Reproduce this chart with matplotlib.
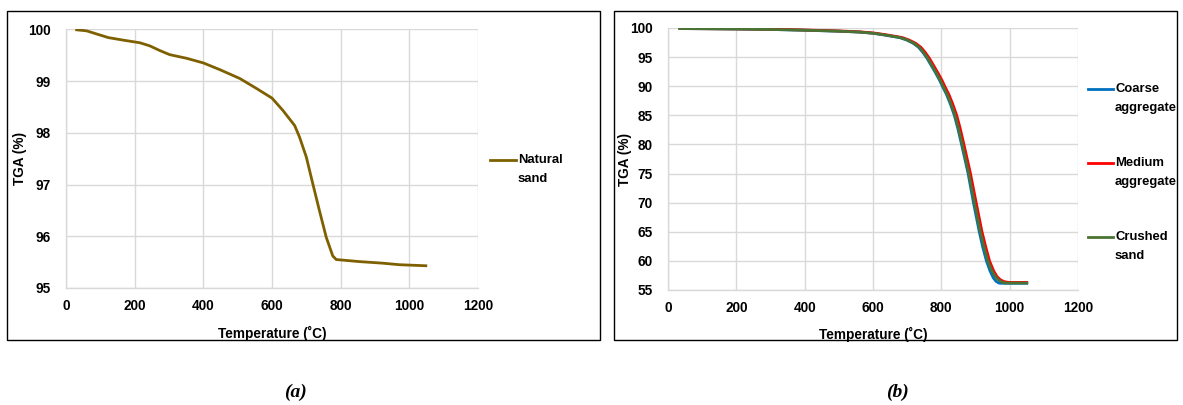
import matplotlib
matplotlib.use("Agg")
import matplotlib.pyplot as plt
from matplotlib.patches import Rectangle
from matplotlib.lines import Line2D

plt.rcParams['font.family'] = ['Liberation Sans', 'DejaVu Sans']

# ---- data (a) natural sand ----
ns_temp = [31, 60, 89, 123, 167, 215, 244, 273, 302, 351, 400, 448, 506, 554, 600, 632, 666,
           680, 700, 719, 738, 758, 777, 787, 855, 922, 971, 1048]
ns_tga = [99.99, 99.97, 99.91, 99.84, 99.79, 99.74, 99.68, 99.59, 99.51, 99.44, 99.35, 99.22,
          99.05, 98.86, 98.67, 98.43, 98.14, 97.92, 97.53, 97.01, 96.50, 95.98, 95.62, 95.55,
          95.51, 95.48, 95.45, 95.43]

# ---- data (b) aggregates ----
cs_temp = [35, 100, 200, 300, 400, 500, 560, 600, 630, 660, 680, 700, 719, 735, 748, 760, 773,
           785, 797, 805, 817, 828, 840, 850, 860, 870, 880, 897, 914, 925, 936, 948, 958, 968,
           978, 987, 1000, 1050]
cs_tga = [99.9, 99.88, 99.83, 99.75, 99.62, 99.45, 99.3, 99.1, 98.85, 98.55, 98.35, 97.95, 97.4,
          96.7, 95.8, 94.8, 93.5, 92.3, 91.0, 90.0, 88.6, 87.0, 85.0, 82.8, 80.3, 77.7, 75.1,
          70.0, 65.0, 62.4, 60.0, 58.3, 57.3, 56.7, 56.35, 56.2, 56.2, 56.2]

ca_temp = [35, 100, 200, 300, 400, 500, 560, 600, 628, 658, 678, 698, 717, 733, 746, 758, 771,
           783, 795, 803, 815, 826, 838, 848, 858, 868, 878, 894, 911, 921, 932, 943, 952, 960,
           968, 975, 1000, 1050]
ca_tga = [99.9, 99.88, 99.83, 99.75, 99.62, 99.45, 99.3, 99.1, 98.85, 98.55, 98.35, 97.95, 97.4,
          96.7, 95.8, 94.8, 93.5, 92.3, 91.0, 90.0, 88.6, 87.0, 85.0, 82.8, 80.3, 77.7, 75.1,
          70.0, 65.0, 62.4, 60.0, 58.2, 57.1, 56.5, 56.2, 56.15, 56.15, 56.15]

ma_temp = [35, 100, 200, 300, 400, 500, 565, 605, 635, 665, 685, 705, 724, 740, 753, 765, 778,
           790, 802, 810, 822, 833, 845, 855, 865, 875, 885, 902, 919, 930, 941, 953, 963, 973,
           983, 992, 1000, 1050]
ma_tga = [99.9, 99.88, 99.85, 99.78, 99.66, 99.5, 99.33, 99.12, 98.87, 98.57, 98.37, 97.95, 97.4,
          96.7, 95.8, 94.8, 93.5, 92.3, 91.0, 90.0, 88.6, 87.0, 85.0, 82.8, 80.3, 77.7, 75.1,
          70.0, 65.0, 62.4, 60.0, 58.3, 57.3, 56.75, 56.45, 56.35, 56.3, 56.3]

x_ticks = [0, 200, 400, 600, 800, 1000, 1200]
ya_ticks = [95, 96, 97, 98, 99, 100]
yb_ticks = [55, 60, 65, 70, 75, 80, 85, 90, 95, 100]

xlabel = "Temperature (˚C)"
ylabel = "TGA (%)"

W, H = 1183, 405
fig = plt.figure(figsize=(W / 100, H / 100), dpi=100)

def px_rect(x0, y0, x1, y1):
    return [x0 / W, 1 - y1 / H, (x1 - x0) / W, (y1 - y0) / H]

# panel boxes
for (x0, y0, x1, y1) in [(7, 11, 600, 340), (614, 11, 1177, 340)]:
    fig.add_artist(Rectangle((x0 / W, 1 - y1 / H), (x1 - x0) / W, (y1 - y0) / H,
                             transform=fig.transFigure, fill=False, edgecolor='black',
                             linewidth=1.0))

grid_c = '#D9D9D9'
FS = 9.8
LFS = 9.4

def style(ax, yticks, ylab_x, xlab_y):
    ax.set_xlim(0, 1200)
    ax.set_xticks(x_ticks)
    ax.set_yticks(yticks)
    ax.set_ylim(yticks[0], yticks[-1])
    ax.grid(True, color=grid_c, linewidth=1.0)
    ax.set_axisbelow(True)
    for s in ['top', 'right']:
        ax.spines[s].set_visible(False)
    for s in ['left', 'bottom']:
        ax.spines[s].set_color(grid_c)
        ax.spines[s].set_linewidth(1.0)
    ax.tick_params(axis='both', length=0, labelsize=FS, colors='black')
    ax.tick_params(axis='y', pad=11)
    ax.tick_params(axis='x', pad=8)
    for lab in ax.get_xticklabels() + ax.get_yticklabels():
        lab.set_fontweight('bold')
    ax.set_xlabel(xlabel, fontsize=FS, fontweight='bold')
    ax.set_ylabel(ylabel, fontsize=FS, fontweight='bold')
    ax.yaxis.set_label_coords(ylab_x, 0.5)
    ax.xaxis.set_label_coords(0.5, xlab_y)

# (a)
ax1 = fig.add_axes(px_rect(66, 29.3, 478, 288))
style(ax1, ya_ticks, -0.095, -0.145)
ax1.plot(ns_temp, ns_tga, color='#7F6000', linewidth=2.0, solid_joinstyle='round')

def legend_entry(ax, x0, x1, y, color, lines):
    ax.add_line(Line2D([x0, x1], [y, y], transform=fig.transFigure, color=color,
                       linewidth=2.0, clip_on=False))
    fig.text(x1 + 2 / W, y, lines[0], fontsize=LFS, fontweight='bold',
             ha='left', va='center')
    fig.text(x1 + 2 / W, y - 19 / H, lines[1], fontsize=LFS, fontweight='bold',
             ha='left', va='center')

legend_entry(ax1, 490 / W, 516 / W, 1 - 160 / H, '#7F6000', ["Natural", "sand"])

# (b)
ax2 = fig.add_axes(px_rect(668, 28, 1078, 290))
style(ax2, yb_ticks, -0.088, -0.14)
ax2.plot(ca_temp, ca_tga, color='#0070C0', linewidth=2.0, solid_joinstyle='round')
ax2.plot(ma_temp, ma_tga, color='#FF0000', linewidth=2.0, solid_joinstyle='round')
ax2.plot(cs_temp, cs_tga, color='#4A7434', linewidth=2.0, solid_joinstyle='round')

legend_entry(ax2, 1088 / W, 1113 / W, 1 - 89 / H, '#0070C0', ["Coarse", "aggregate"])
legend_entry(ax2, 1088 / W, 1113 / W, 1 - 163 / H, '#FF0000', ["Medium", "aggregate"])
legend_entry(ax2, 1088 / W, 1113 / W, 1 - 237 / H, '#4A7434', ["Crushed", "sand"])

# captions
fig.text(295 / W, 1 - 392 / H, "(a)", fontsize=14, fontweight='bold', fontstyle='italic',
         family=['Liberation Serif'], ha='center', va='center')
fig.text(897 / W, 1 - 392 / H, "(b)", fontsize=14, fontweight='bold', fontstyle='italic',
         family=['Liberation Serif'], ha='center', va='center')

fig.savefig("out.png", dpi=100)
